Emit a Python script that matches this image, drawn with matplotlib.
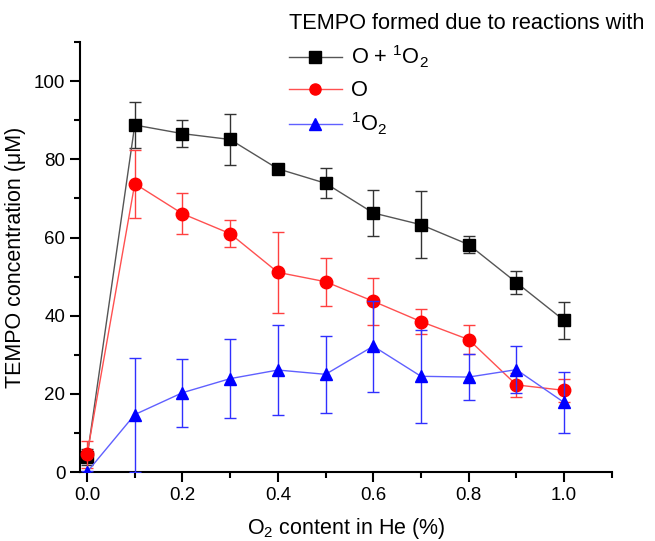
import matplotlib.pyplot as plt
from matplotlib.lines import Line2D
from matplotlib.ticker import MultipleLocator

plt.rcParams["font.family"] = ["Liberation Sans", "DejaVu Sans"]
plt.rcParams["mathtext.default"] = "regular"

x = [0.0, 0.1, 0.2, 0.3, 0.4, 0.5, 0.6, 0.7, 0.8, 0.9, 1.0]

y_both = [3.8, 88.8, 86.6, 85.1, 77.6, 73.9, 66.3, 63.3, 58.2, 48.5, 38.8]
e_both = [2.0, 5.8, 3.4, 6.6, 0.8, 3.9, 5.8, 8.5, 2.2, 3.0, 4.8]

y_o = [4.5, 73.8, 66.1, 61.0, 51.1, 48.7, 43.7, 38.5, 33.9, 22.3, 20.9]
e_o = [3.5, 8.7, 5.2, 3.4, 10.3, 6.1, 6.0, 3.2, 3.6, 3.0, 3.0]

y_s = [0.0, 14.7, 20.3, 23.9, 26.1, 25.0, 32.2, 24.5, 24.3, 26.2, 17.8]
e_s = [0.3, 14.6, 8.7, 10.1, 11.4, 9.9, 11.6, 11.9, 5.8, 6.0, 7.8]

labels = ["O + $^1$O$_2$", "O", "$^1$O$_2$"]

fig = plt.figure(figsize=(6.55, 5.41), dpi=100)
ax = fig.add_axes([0.122, 0.1275, 0.812, 0.7945])

styles = [
    (y_both, e_both, "#555555", "#333333", "black", "s", 8),
    (y_o, e_o, "#ff5050", "#ff4040", "red", "o", 9),
    (y_s, e_s, "#6060ff", "#3030ff", "blue", "^", 9),
]
handles = []
for i, (y, e, lc, ec, mc, mk, ms) in enumerate(styles):
    ax.errorbar(x, y, yerr=e, color=lc, ecolor=ec, marker=mk, mfc=mc, mec=mc,
                ms=ms, lw=1, elinewidth=1, capsize=4, zorder=3 + i)
    handles.append(Line2D([], [], color=lc, marker=mk, mfc=mc, mec=mc, ms=8, lw=1))

ax.set_xlim(-0.015, 1.1)
ax.set_ylim(0, 110)
ax.xaxis.set_major_locator(MultipleLocator(0.2))
ax.xaxis.set_minor_locator(MultipleLocator(0.1))
ax.yaxis.set_major_locator(MultipleLocator(20))
ax.yaxis.set_minor_locator(MultipleLocator(10))
ax.tick_params(which="major", length=7, width=1.5, labelsize=13.5, direction="out")
ax.tick_params(which="minor", length=4, width=1.5, direction="out")
ax.xaxis.set_major_formatter(plt.FormatStrFormatter("%.1f"))

ax.spines["top"].set_visible(False)
ax.spines["right"].set_visible(False)
ax.spines["left"].set_linewidth(1.5)
ax.spines["bottom"].set_linewidth(1.5)

ax.set_xlabel("O$_2$ content in He (%)", fontsize=15.5, labelpad=9)
ax.set_ylabel("TEMPO concentration (\u03bcM)", fontsize=15.5, labelpad=6)

leg = fig.legend(handles, labels, loc="upper left", bbox_to_anchor=(0.435, 0.984),
                 frameon=False, title="TEMPO formed due to reactions with",
                 fontsize=15.7, title_fontsize=15.7, handlelength=2.4,
                 handletextpad=0.45, borderaxespad=0, borderpad=0.2,
                 labelspacing=0.45)
leg._legend_box.align = "left"

fig.savefig("out.png", dpi=100)
